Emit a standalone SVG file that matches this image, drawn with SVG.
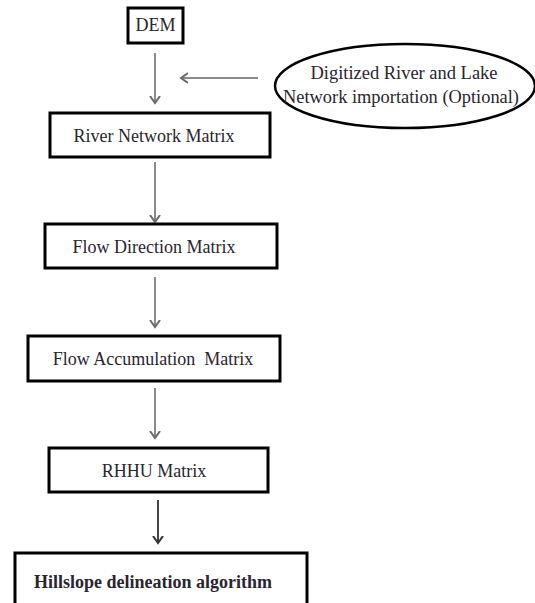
<svg xmlns="http://www.w3.org/2000/svg" width="535" height="603" viewBox="0 0 535 603">
<defs>
<style>
.box{fill:#fff;stroke:#000;stroke-width:3}
.t{font-family:"Liberation Serif","Times New Roman",serif;font-size:18px;fill:#2a2530;text-anchor:middle}
.b{font-weight:bold;font-size:18px}
.c{fill:none;stroke:#8a8a8a;stroke-width:2}
.dk{stroke:#444}
</style>
<marker id="ah" markerUnits="userSpaceOnUse" markerWidth="14" markerHeight="14" viewBox="-7 -7 14 14" refX="0" refY="0" orient="auto">
<path d="M-7,-5 L0,0 L-7,5" fill="none" stroke="#6a6a6a" stroke-width="2"/>
</marker>
<marker id="ahd" markerUnits="userSpaceOnUse" markerWidth="14" markerHeight="14" viewBox="-7 -7 14 14" refX="0" refY="0" orient="auto">
<path d="M-7,-5 L0,0 L-7,5" fill="none" stroke="#333" stroke-width="2"/>
</marker>
</defs>
<rect width="535" height="603" fill="#fff"/>
<g id="connectors">
<line class="c" x1="155" y1="53" x2="155" y2="103" marker-end="url(#ah)"/>
<line class="c" x1="258" y1="78" x2="181" y2="78" marker-end="url(#ah)"/>
<line class="c" x1="155" y1="162" x2="155" y2="222" marker-end="url(#ah)"/>
<line class="c" x1="155" y1="277" x2="155" y2="327" marker-end="url(#ah)"/>
<line class="c" x1="155" y1="388" x2="155" y2="438" marker-end="url(#ah)"/>
<line class="c dk" x1="158" y1="500" x2="158" y2="543" marker-end="url(#ahd)"/>
</g>
<g id="dem">
<rect class="box" x="128" y="8" width="55" height="35"/>
<text class="t" x="155.5" y="31">DEM</text>
</g>
<g id="digitized">
<ellipse cx="405" cy="86" rx="130" ry="42" fill="#fff" stroke="#000" stroke-width="2.5"/>
<text class="t" x="404" y="79" textLength="187" lengthAdjust="spacingAndGlyphs">Digitized River and Lake</text>
<text class="t" x="401" y="103" textLength="236" lengthAdjust="spacingAndGlyphs">Network importation (Optional)</text>
</g>
<g id="river">
<rect class="box" x="50" y="113" width="220" height="44"/>
<text class="t" x="154" y="142">River Network Matrix</text>
</g>
<g id="flowdir">
<rect class="box" x="45" y="224" width="232" height="44"/>
<text class="t" x="154" y="253">Flow Direction Matrix</text>
</g>
<g id="flowacc">
<rect class="box" x="28" y="336" width="252" height="45"/>
<text class="t" x="153" y="365" xml:space="preserve">Flow Accumulation  Matrix</text>
</g>
<g id="rhhu">
<rect class="box" x="49" y="448" width="219" height="44"/>
<text class="t" x="154" y="477">RHHU Matrix</text>
</g>
<g id="hillslope">
<rect class="box" x="15" y="553" width="292" height="60"/>
<text class="t b" x="153" y="588">Hillslope delineation algorithm</text>
</g>
</svg>
